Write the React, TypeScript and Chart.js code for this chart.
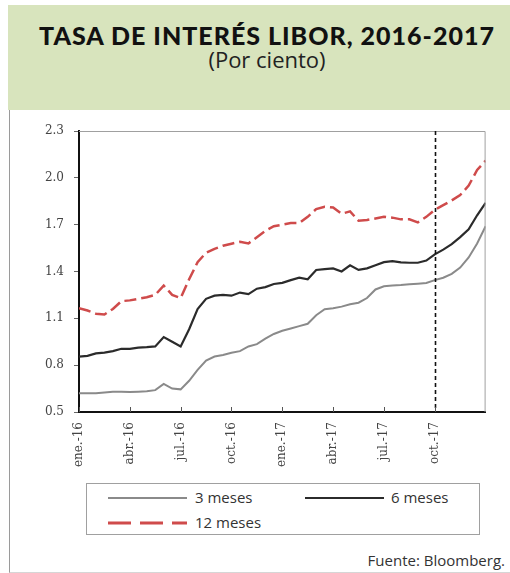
import React, { useEffect, useRef } from "react";
import { Chart, registerables } from "chart.js";

Chart.register(...registerables);

// Quarter tick labels (one every 6 half-month periods)
const tickLabels = ["ene.-16", "abr.-16", "jul.-16", "oct.-16", "ene.-17", "abr.-17", "jul.-17", "oct.-17"];
const periodsPerTick = 6;
const markerPeriod = 42; // oct.-17

const seriesNames = ["3 meses", "6 meses", "12 meses"];
const seriesColors = ["#8a8a8a", "#2b2b2b", "#cf4b4b"];

// Half-monthly readings, Jan 2016 – Dec 2017 (per cent)
const libor3m = [
  0.62, 0.62, 0.62, 0.625, 0.63, 0.63, 0.628, 0.63, 0.633, 0.64,
  0.68, 0.65, 0.645, 0.7, 0.77, 0.83, 0.855, 0.865, 0.88, 0.89,
  0.92, 0.935, 0.97, 1.0, 1.02, 1.035, 1.05, 1.065, 1.12, 1.158,
  1.165, 1.175, 1.19, 1.2, 1.23, 1.285, 1.305, 1.31, 1.313, 1.318,
  1.322, 1.327, 1.345, 1.36, 1.385, 1.425, 1.49, 1.58, 1.69,
];
const libor6m = [
  0.855, 0.86, 0.875, 0.88, 0.89, 0.905, 0.905, 0.912, 0.915, 0.92,
  0.98, 0.95, 0.92, 1.03, 1.16, 1.225, 1.245, 1.25, 1.245, 1.265,
  1.255, 1.29, 1.3, 1.32, 1.327, 1.345, 1.36, 1.35, 1.41, 1.415,
  1.42, 1.4, 1.44, 1.41, 1.42, 1.44, 1.46, 1.466, 1.458, 1.456,
  1.456, 1.47, 1.51, 1.54, 1.575, 1.62, 1.67, 1.76, 1.84,
];
const libor12m = [
  1.165, 1.15, 1.13, 1.125, 1.16, 1.21, 1.215, 1.225, 1.235, 1.25,
  1.31, 1.25, 1.23, 1.35, 1.46, 1.52, 1.545, 1.565, 1.578, 1.59,
  1.58, 1.62, 1.66, 1.69, 1.7, 1.71, 1.71, 1.75, 1.8, 1.815,
  1.81, 1.77, 1.785, 1.725, 1.73, 1.74, 1.75, 1.745, 1.734, 1.734,
  1.715, 1.75, 1.795, 1.825, 1.855, 1.89, 1.95, 2.05, 2.11,
];

const yMin = 0.5;
const yMax = 2.3;
const yStep = 0.3;

const toPoints = (arr: number[]) => arr.map((v, i) => ({ x: i, y: v }));

const framePlugin = {
  id: "frame",
  afterDatasetsDraw(chart: any) {
    const { ctx, chartArea, scales } = chart;
    const xs = scales.x;
    ctx.save();
    // top and right light frame
    ctx.strokeStyle = "#a0a0a0";
    ctx.lineWidth = 1;
    ctx.beginPath();
    ctx.moveTo(chartArea.left, chartArea.top + 0.5);
    ctx.lineTo(chartArea.right - 0.5, chartArea.top + 0.5);
    ctx.lineTo(chartArea.right - 0.5, chartArea.bottom);
    ctx.stroke();
    // vertical dotted marker
    const mx = Math.round(xs.getPixelForValue(markerPeriod)) + 0.5;
    ctx.strokeStyle = "#111";
    ctx.lineWidth = 1.6;
    ctx.setLineDash([4, 3]);
    ctx.beginPath();
    ctx.moveTo(mx, chartArea.top);
    ctx.lineTo(mx, chartArea.bottom);
    ctx.stroke();
    ctx.setLineDash([]);
    // inside tick marks on x axis
    ctx.strokeStyle = "#555";
    ctx.lineWidth = 1;
    xs.ticks.forEach((t: any) => {
      const px = Math.round(xs.getPixelForValue(t.value)) + 0.5;
      if (px > chartArea.right - 2) return;
      ctx.beginPath();
      ctx.moveTo(px, chartArea.bottom);
      ctx.lineTo(px, chartArea.bottom - 5);
      ctx.stroke();
    });
    ctx.restore();
  },
};

function LegendSwatch({ color, dash, width }: { color: string; dash?: string; width: number }) {
  return (
    <svg width={80} height={6} style={{ display: "block" }}>
      <line x1={0} y1={3} x2={79} y2={3} stroke={color} strokeWidth={width} strokeDasharray={dash} />
    </svg>
  );
}

export default function App() {
  const ref = useRef<HTMLCanvasElement>(null);

  useEffect(() => {
    if (!ref.current) return;
    const chart = new Chart(ref.current, {
      type: "line",
      data: {
        datasets: [
          {
            label: seriesNames[0],
            data: toPoints(libor3m),
            borderColor: seriesColors[0],
            borderWidth: 2,
            pointRadius: 0,
            tension: 0,
          },
          {
            label: seriesNames[1],
            data: toPoints(libor6m),
            borderColor: seriesColors[1],
            borderWidth: 2.2,
            pointRadius: 0,
            tension: 0,
          },
          {
            label: seriesNames[2],
            data: toPoints(libor12m),
            borderColor: seriesColors[2],
            borderWidth: 2.5,
            borderDash: [12, 5],
            pointRadius: 0,
            tension: 0,
          },
        ],
      },
      options: {
        responsive: false,
        animation: false,
        devicePixelRatio: 1,
        layout: { padding: { left: 0, right: 21, top: 20, bottom: 0 } },
        plugins: { legend: { display: false }, tooltip: { enabled: false }, title: { display: false } },
        scales: {
          x: {
            type: "linear",
            min: 0,
            max: tickLabels.length * periodsPerTick,
            afterFit: (s: any) => {
              s.height = 69;
            },
            border: { display: true, color: "#111", width: 2 },
            grid: { display: false, drawTicks: false },
            ticks: {
              stepSize: periodsPerTick,
              autoSkip: false,
              minRotation: 90,
              maxRotation: 90,
              padding: 10,
              color: "#444",
              font: { family: "'DejaVu Serif'", size: 12 },
              callback: (v: any) => tickLabels[Math.round(v / periodsPerTick)] ?? "",
            },
          },
          y: {
            min: yMin,
            max: yMax,
            afterFit: (s: any) => {
              s.width = 79;
            },
            border: { display: true, color: "#111", width: 2 },
            grid: { drawOnChartArea: false, tickLength: 5, color: "#666" },
            ticks: {
              stepSize: yStep,
              padding: 10,
              color: "#444",
              font: { family: "'DejaVu Serif'", size: 12 },
              callback: (v: any) => Number(v).toFixed(1),
            },
          },
        },
      },
      plugins: [framePlugin],
    });
    return () => chart.destroy();
  }, []);

  const legendText: React.CSSProperties = {
    position: "absolute",
    fontFamily: "'Open Sans', sans-serif",
    fontSize: 15,
    color: "#333",
    lineHeight: "16px",
  };

  return (
    <div style={{ position: "absolute", left: 0, top: 0, width: 510, height: 573, background: "#fff", overflow: "hidden" }}>
      <div style={{ position: "absolute", left: 8, top: 5, width: 502, height: 105, background: "#d8e4bd" }} />
      <div
        style={{
          position: "absolute",
          left: 9,
          top: 110,
          width: 501,
          height: 462,
          borderLeft: "1px solid #9a9a9a",
          borderBottom: "1px solid #d6d6d6",
        }}
      />
      <div
        style={{
          position: "absolute",
          left: 17,
          top: 20,
          width: 500,
          textAlign: "center",
          fontFamily: "Lato, sans-serif",
          fontWeight: 900,
          fontSize: 25,
          letterSpacing: 1,
          lineHeight: "30px",
          color: "#111",
        }}
      >
        TASA DE INTERÉS LIBOR, 2016-2017
      </div>
      <div
        style={{
          position: "absolute",
          left: 17,
          top: 45,
          width: 500,
          textAlign: "center",
          fontFamily: "'Open Sans', sans-serif",
          fontSize: 22,
          lineHeight: "28px",
          color: "#222",
        }}
      >
        (Por ciento)
      </div>
      <canvas ref={ref} width={510} height={370} style={{ position: "absolute", left: 0, top: 111, width: 510, height: 370 }} />
      <div
        style={{
          position: "absolute",
          left: 86,
          top: 483,
          width: 392,
          height: 50,
          border: "1px solid #a0a0a0",
        }}
      >
        <div style={{ position: "absolute", left: 21, top: 11 }}>
          <LegendSwatch color={seriesColors[0]} width={2} />
        </div>
        <div style={{ ...legendText, left: 108, top: 5 }}>{seriesNames[0]}</div>
        <div style={{ position: "absolute", left: 218, top: 11 }}>
          <LegendSwatch color={seriesColors[1]} width={2.2} />
        </div>
        <div style={{ ...legendText, left: 304, top: 5 }}>{seriesNames[1]}</div>
        <div style={{ position: "absolute", left: 21, top: 36 }}>
          <LegendSwatch color={seriesColors[2]} width={3} dash="23 9" />
        </div>
        <div style={{ ...legendText, left: 108, top: 30 }}>{seriesNames[2]}</div>
      </div>
      <div
        style={{
          position: "absolute",
          right: 5,
          top: 550,
          fontFamily: "'Open Sans', sans-serif",
          fontSize: 15,
          color: "#333",
        }}
      >
        Fuente: Bloomberg.
      </div>
    </div>
  );
}
